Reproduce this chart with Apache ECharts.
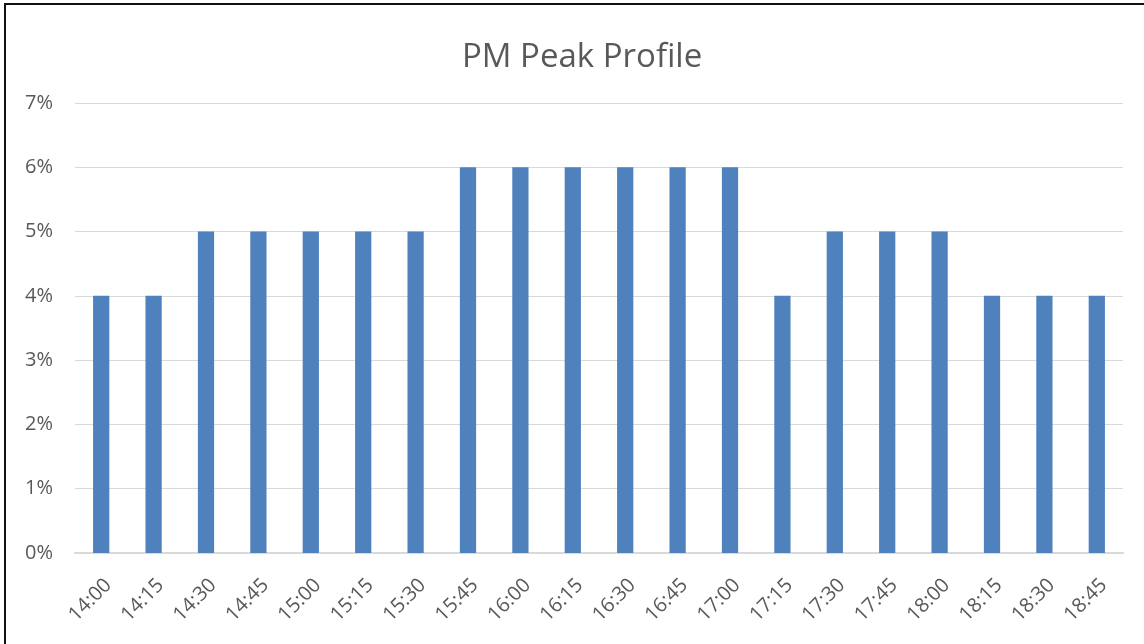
<!DOCTYPE html>
<html>
<head>
<meta charset="utf-8">
<script src="https://cdn.jsdelivr.net/npm/echarts@6/dist/echarts.min.js"></script>
<style>
    html, body { margin: 0; padding: 0; background: #fff; }
    #frame { position: absolute; left: 4px; top: 3px; width: 1140px; height: 641px;
             border-top: 2px solid #111; border-left: 2px solid #111; box-sizing: border-box; }
    #chart { position: absolute; left: 0; top: 0; width: 1144px; height: 644px; }
</style>
</head>
<body>
<div id="frame"></div>
<div id="chart"></div>
<script>
// 时间段
var times = ['14:00', '14:15', '14:30', '14:45', '15:00', '15:15', '15:30', '15:45', '16:00', '16:15',
             '16:30', '16:45', '17:00', '17:15', '17:30', '17:45', '18:00', '18:15', '18:30', '18:45'];
// 各时段占比 (%)
var shares = [4, 4, 5, 5, 5, 5, 5, 6, 6, 6, 6, 6, 6, 4, 5, 5, 5, 4, 4, 4];
var yTicks = [0, 1, 2, 3, 4, 5, 6, 7];

var myChart = echarts.init(document.getElementById('chart'));
var option = {
    animation: false,
    title: {
        text: 'PM Peak Profile',
        left: 457,
        top: 36,
        textStyle: {
            fontFamily: 'Open Sans',
            fontSize: 33,
            fontWeight: 'normal',
            color: '#595959'
        }
    },
    grid: {
        left: 75,
        right: 21,
        top: 103,
        bottom: 91,
        containLabel: false
    },
    xAxis: {
        type: 'category',
        data: times,
        axisTick: {show: false},
        axisLine: {
            lineStyle: {color: '#d9d9d9', width: 2}
        },
        axisLabel: {
            rotate: 45,
            interval: 0,
            margin: 22,
            verticalAlign: 'top',
            fontFamily: 'Open Sans',
            fontSize: 20,
            color: '#595959'
        }
    },
    yAxis: {
        type: 'value',
        min: yTicks[0],
        max: yTicks[yTicks.length - 1],
        interval: 1,
        axisLine: {show: false},
        axisTick: {show: false},
        splitLine: {
            lineStyle: {color: '#d9d9d9', width: 1}
        },
        axisLabel: {
            formatter: '{value}%',
            margin: 22,
            fontFamily: 'Open Sans',
            fontSize: 20,
            color: '#595959'
        }
    },
    series: [
        {
            type: 'bar',
            data: shares,
            barWidth: '31%',
            itemStyle: {color: '#4f81bd'}
        }
    ]
};
myChart.setOption(option);
</script>
</body>
</html>
